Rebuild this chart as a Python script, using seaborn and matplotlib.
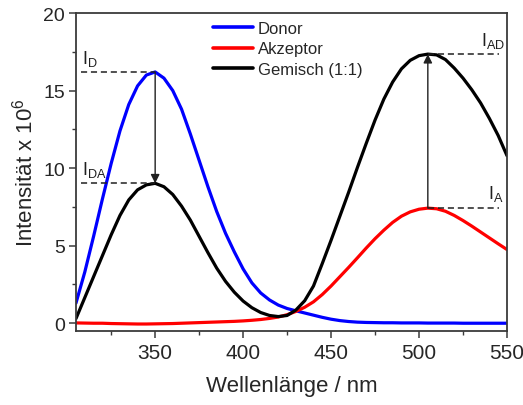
import numpy as np
import pandas as pd
import matplotlib
matplotlib.use("Agg")
import matplotlib.pyplot as plt
import seaborn as sns

# Emission spectra, wavelength in nm, intensity in units of 10^6
wavelength = list(range(305, 551, 5))

donor = [1.3, 3.3, 5.6, 8.0, 10.3, 12.4, 14.1, 15.3, 16.0, 16.2,
         15.8, 15.0, 13.8, 12.2, 10.5, 8.8, 7.2, 5.8, 4.6, 3.5,
         2.6, 1.95, 1.5, 1.17, 0.95, 0.8, 0.66, 0.52, 0.38, 0.26,
         0.17, 0.11, 0.07, 0.05, 0.04, 0.03, 0.03, 0.02, 0.02, 0.02,
         0.01, 0.01, 0.01, 0.01, 0.0, 0.0, 0.0, 0.0, 0.0, 0.0]

acceptor = [0.02, 0.01, 0.0, 0.0, -0.02, -0.03, -0.04, -0.05, -0.05, -0.04,
            -0.03, -0.02, 0.0, 0.02, 0.04, 0.06, 0.08, 0.1, 0.12, 0.15,
            0.19, 0.24, 0.31, 0.4, 0.55, 0.76, 1.03, 1.38, 1.85, 2.4,
            3.0, 3.6, 4.22, 4.85, 5.45, 6.0, 6.5, 6.9, 7.18, 7.35,
            7.42, 7.38, 7.22, 6.95, 6.62, 6.26, 5.88, 5.5, 5.12, 4.75]

mixture = [0.3, 1.65, 3.0, 4.35, 5.7, 6.95, 7.95, 8.6, 8.92, 9.02,
           8.8, 8.3, 7.55, 6.65, 5.6, 4.55, 3.55, 2.7, 2.0, 1.43,
           1.0, 0.69, 0.5, 0.43, 0.5, 0.85, 1.45, 2.4, 3.85, 5.35,
           6.9, 8.45, 10.05, 11.6, 13.1, 14.45, 15.55, 16.4, 16.95, 17.25,
           17.35, 17.3, 17.0, 16.45, 15.8, 15.05, 14.2, 13.2, 12.1, 10.8]

series_names = ["Donor", "Akzeptor", "Gemisch (1:1)"]
series_colors = ["#0000ff", "#ff0000", "#000000"]

x_ticks = [350, 400, 450, 500, 550]
y_ticks = [0, 5, 10, 15, 20]

df = pd.DataFrame({
    "Wellenlänge": wavelength * 3,
    "Intensität": donor + acceptor + mixture,
    "Probe": [series_names[0]] * len(wavelength)
             + [series_names[1]] * len(wavelength)
             + [series_names[2]] * len(wavelength),
})

sns.set_style("ticks")
plt.rcParams["font.family"] = ["Liberation Sans", "DejaVu Sans"]
plt.rcParams["mathtext.fontset"] = "custom"
plt.rcParams["mathtext.rm"] = "Liberation Sans"
plt.rcParams["mathtext.it"] = "Liberation Sans"

fig = plt.figure(figsize=(5.23, 4.06), dpi=100)
ax = fig.add_axes([0.1453, 0.1823, 0.8241, 0.7832])

sns.lineplot(data=df, x="Wellenlänge", y="Intensität", hue="Probe",
             hue_order=series_names, palette=series_colors,
             linewidth=2.3, ax=ax, sort=False)

ax.set_xlim(305, 550)
ax.set_ylim(-0.5, 20)
ax.set_xticks(x_ticks)
ax.set_yticks(y_ticks)
ax.set_xticks(np.arange(325, 551, 25), minor=True)
ax.set_yticks(np.arange(0, 20.1, 2.5), minor=True)

spine_col = "#3a3a3a"
for s in ax.spines.values():
    s.set_color(spine_col)
    s.set_linewidth(1.3)
ax.tick_params(which="major", direction="out", length=5, width=1.1,
               color=spine_col, pad=3, top=False, right=False)
ax.tick_params(axis="x", which="major", labelsize=15, pad=4)
ax.tick_params(axis="y", which="major", labelsize=14)
ax.tick_params(which="minor", direction="out", length=3, width=1.0,
               color=spine_col, top=False, right=False)

ax.set_xlabel("Wellenlänge / nm", fontsize=16, labelpad=9)
ax.set_ylabel("Intensität x 10$^{6}$", fontsize=16, labelpad=4)

# Peak positions for the annotation markers
wl = np.array(wavelength)
d = np.array(donor)
a = np.array(acceptor)
m = np.array(mixture)
i_d = int(np.argmax(d))
i_a = int(np.argmax(a))
i_da = int(np.argmax(np.where(wl < 430, m, -np.inf)))
i_ad = int(np.argmax(np.where(wl > 450, m, -np.inf)))

I_D, x_D = d[i_d], wl[i_d]
I_A, x_A = a[i_a], wl[i_a]
I_DA = m[i_da]
I_AD, x_AD = m[i_ad], wl[i_ad]

dash_kw = dict(color="#202020", lw=1.1, linestyle=(0, (4, 2.5)))
ax.plot([307.8, x_D], [I_D, I_D], **dash_kw)
ax.plot([307.8, x_D], [I_DA, I_DA], **dash_kw)
ax.plot([x_AD, 545.3], [I_AD, I_AD], **dash_kw)
ax.plot([x_A, 545.3], [I_A, I_A], **dash_kw)

arrow_kw = dict(arrowstyle="-|>", color="#202020", lw=1.0,
                mutation_scale=13, shrinkA=0, shrinkB=0)
ax.annotate("", xy=(x_D, I_DA), xytext=(x_D, I_D), arrowprops=arrow_kw)
ax.annotate("", xy=(x_A, I_AD), xytext=(x_A, I_A), arrowprops=arrow_kw)

lab_kw = dict(fontsize=13, va="bottom", ha="left", color="#202020")
ax.text(308.3, I_D + 0.25, "I$_{\\mathrm{D}}$", **lab_kw)
ax.text(308.3, I_DA + 0.25, "I$_{\\mathrm{DA}}$", **lab_kw)
ax.text(535.0, I_AD + 0.25, "I$_{\\mathrm{AD}}$", **lab_kw)
ax.text(539.0, I_A + 0.3, "I$_{\\mathrm{A}}$", **lab_kw)

leg = ax.legend(loc="upper left", bbox_to_anchor=(0.317, 0.975),
                frameon=False, fontsize=12, handlelength=2.4,
                handletextpad=0.3, labelspacing=0.33, borderpad=0,
                borderaxespad=0)
for line in leg.get_lines():
    line.set_linewidth(2.6)

fig.savefig("out.png", dpi=100)
